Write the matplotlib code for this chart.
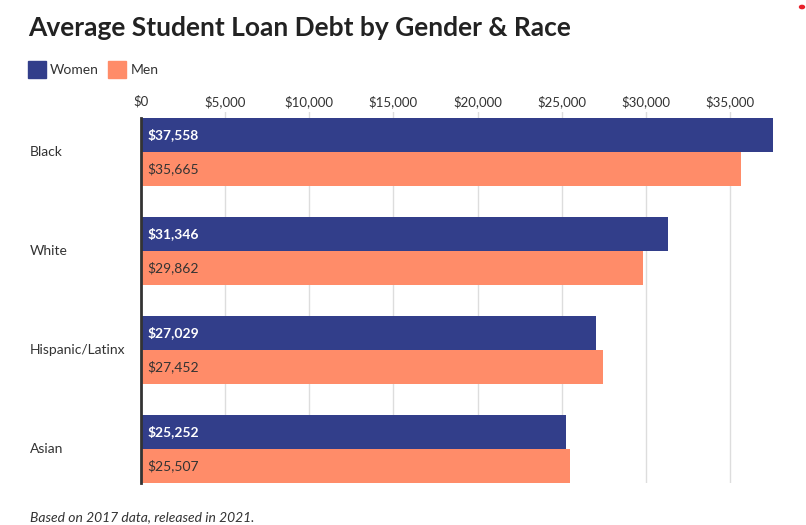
import matplotlib
matplotlib.use('Agg')
import matplotlib.pyplot as plt
import numpy as np
from matplotlib.patches import Rectangle

plt.rcParams['font.family'] = ['Lato', 'DejaVu Sans']

groups = ['Black', 'White', 'Hispanic/Latinx', 'Asian']
women = [37558, 31346, 27029, 25252]
men = [35665, 29862, 27452, 25507]
ticks = [0, 5000, 10000, 15000, 20000, 25000, 30000, 35000]

c_women = '#323e8a'
c_men = '#ff8c69'

fig = plt.figure(figsize=(8.06, 5.25), dpi=100)
ax = fig.add_axes([141 / 806, 1 - 483 / 525, 632 / 806, 371 / 525])

y = np.arange(len(groups))
h = 34 / 99
ax.barh(y - h / 2, women, height=h, color=c_women, zorder=2)
ax.barh(y + h / 2, men, height=h, color=c_men, zorder=2)

for i in range(len(groups)):
    ax.text(400, y[i] - h / 2, f'${women[i]:,}', color='white', fontsize=10,
            fontweight='bold', va='center', ha='left', zorder=3)
    ax.text(400, y[i] + h / 2, f'${men[i]:,}', color='#333333', fontsize=10,
            va='center', ha='left', zorder=3)

ax.set_xlim(0, max(women))
ax.set_ylim(3 + h, -40 / 99)
ax.set_xticks(ticks)
ax.set_xticklabels([f'${t:,}' for t in ticks])
ax.xaxis.tick_top()
ax.tick_params(axis='x', length=0, pad=3, labelsize=9.5, labelcolor='#333333')
ax.set_yticks([])
for t in ticks[1:]:
    ax.axvline(t, color='#dddddd', lw=1, zorder=1)
for s in ['top', 'right', 'bottom']:
    ax.spines[s].set_visible(False)
ax.spines['left'].set_color('#333333')
ax.spines['left'].set_linewidth(2)
ax.spines['left'].set_bounds(-h, 3 + h)
ax.spines['left'].set_zorder(4)

for i, g in enumerate(groups):
    fig.text(30 / 806, 1 - (152 + 99 * i) / 525, g, fontsize=10, color='#333333',
             va='center', ha='left')

fig.text(28 / 806, 1 - 28 / 525, 'Average Student Loan Debt by Gender & Race',
         fontsize=19, fontweight='bold', color='#222222', va='center', ha='left')

# legend
fig.patches.append(Rectangle((28 / 806, 1 - 78 / 525), 18 / 806, 17 / 525,
                             transform=fig.transFigure, color=c_women))
fig.text(50 / 806, 1 - 70 / 525, 'Women', fontsize=10, color='#333333', va='center')
fig.patches.append(Rectangle((108 / 806, 1 - 78 / 525), 18 / 806, 17 / 525,
                             transform=fig.transFigure, color=c_men))
fig.text(131 / 806, 1 - 70 / 525, 'Men', fontsize=10, color='#333333', va='center')

fig.text(30 / 806, 1 - 517 / 525, 'Based on 2017 data, released in 2021.',
         fontsize=10, style='italic', color='#333333', va='center')

fig.patches.append(matplotlib.patches.Circle((802 / 806, 1 - 7 / 525), 2.5 / 806,
                                             transform=fig.transFigure, color='#e8202a'))

fig.savefig('out.png', dpi=100)
